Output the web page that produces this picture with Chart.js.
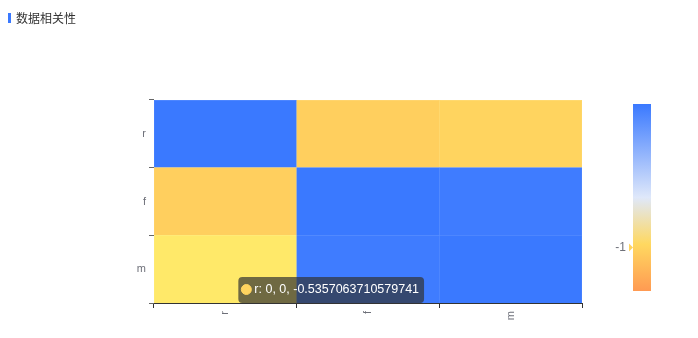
<!DOCTYPE html>
<html>
<head>
<meta charset="utf-8">
<script src="https://cdn.jsdelivr.net/npm/chart.js@4.4.1/dist/chart.umd.min.js"></script>
<style>
  html, body { margin: 0; padding: 0; background: #fff; }
  #wrap { position: relative; width: 698px; height: 338px; }
  #title {
    position: absolute; left: 8px; top: 9px;
    font: 12px 'Noto Sans CJK SC', sans-serif; color: #333;
    display: flex; align-items: center;
  }
  #title::before {
    content: ''; display: inline-block; width: 3px; height: 10px;
    background: #3a79ff; margin-right: 5px;
  }
  canvas { position: absolute; left: 0; top: 0; }
</style>
</head>
<body>
<div id="wrap">
  <canvas id="heatChart" width="698" height="338"></canvas>
  <div id="title">数据相关性</div>
</div>
<script>
/* ================= DATA ================= */
const xLabels = ['r', 'f', 'm'];
const yLabels = ['r', 'f', 'm'];   // top -> bottom
const rowR = [1, -0.57, -0.5357063710579741];
const rowF = [-0.57, 1, 0.97];
const rowM = [-0.5357063710579741, 0.97, 1];

// visual map (value -> colour)
const visualMin = -1;
const visualMax = 1;
const colorStops = [-1, -0.5, 0, 1];
const colorSteps = ['#ff9a52', '#ffd860', '#dfe8fa', '#3a79ff'];

/* ================= COLOUR HELPERS ================= */
function hexToRgb(h) {
  const n = parseInt(h.slice(1), 16);
  return [(n >> 16) & 255, (n >> 8) & 255, n & 255];
}

function valueColor(v) {
  v = Math.max(visualMin, Math.min(visualMax, v));
  for (let i = 0; i < colorStops.length - 1; i++) {
    if (v <= colorStops[i + 1]) {
      const t = (v - colorStops[i]) / (colorStops[i + 1] - colorStops[i]);
      const a = hexToRgb(colorSteps[i]);
      const b = hexToRgb(colorSteps[i + 1]);
      return a.map((c, k) => Math.round(c + (b[k] - c) * t));
    }
  }
  return hexToRgb(colorSteps[colorSteps.length - 1]);
}

const rgb = c => `rgb(${c.join(',')})`;
const lift = (c, k) => c.map(x => Math.min(255, Math.round(x * k)));
const mixWhite = (c, t) => c.map(x => Math.round(x + (255 - x) * t));

/* ================= DATASETS (one per row, stacked bottom -> top) ================= */
const rows = [
  { name: 'm', values: rowM },
  { name: 'f', values: rowF },
  { name: 'r', values: rowR }
];

const datasets = rows.map(row => {
  const cols = row.values.map(valueColor);
  return {
    label: row.name,
    data: row.values.map(() => 1),   // every cell is one row high
    corr: row.values,
    backgroundColor: cols.map(rgb),
    hoverBackgroundColor: cols.map(c => rgb(lift(c, 1.1))),
    borderColor: cols.map(c => rgb(mixWhite(c, 0.2))),
    hoverBorderColor: cols.map(c => rgb(mixWhite(lift(c, 1.1), 0.2))),
    borderWidth: 0.5,
    categoryPercentage: 1,
    barPercentage: 1
  };
});

/* ================= VISUAL MAP LEGEND ================= */
const visualMapPlugin = {
  id: 'visualMap',
  afterDraw(chart) {
    const { ctx, chartArea } = chart;
    const left = chartArea.right + 51;
    const width = 18;
    const top = 104;
    const bottom = 291;

    ctx.save();
    const grad = ctx.createLinearGradient(0, bottom, 0, top);
    colorStops.forEach((v, i) => {
      grad.addColorStop((v - visualMin) / (visualMax - visualMin), colorSteps[i]);
    });
    ctx.fillStyle = grad;
    ctx.fillRect(left, top, width, bottom - top);

    const act = chart.getActiveElements()[0];
    if (act) {
      const v = chart.data.datasets[act.datasetIndex].corr[act.index];
      const y = bottom - (v - visualMin) / (visualMax - visualMin) * (bottom - top);
      ctx.fillStyle = rgb(valueColor(v));
      ctx.beginPath();
      ctx.moveTo(left, y);
      ctx.lineTo(left - 4, y - 4);
      ctx.lineTo(left - 4, y + 4);
      ctx.closePath();
      ctx.fill();

      ctx.fillStyle = '#6e7079';
      ctx.font = "12px 'Liberation Sans', Arial, sans-serif";
      ctx.textAlign = 'right';
      ctx.textBaseline = 'middle';
      ctx.fillText(v.toFixed(0), left - 7, y);
    }
    ctx.restore();
  }
};

/* ================= TOOLTIP POSITION ================= */
Chart.Tooltip.positioners.cellCorner = function (items) {
  if (!items.length) return false;
  const el = items[0].element;
  return { x: el.x + 13, y: el.base - 13 };
};

/* ================= CHART ================= */
Chart.defaults.font.family = "'Liberation Sans', Arial, sans-serif";

const ctx = document.getElementById('heatChart').getContext('2d');
const chart = new Chart(ctx, {
  type: 'bar',
  data: { labels: xLabels, datasets: datasets },
  options: {
    responsive: false,
    devicePixelRatio: 1,
    animation: false,
    events: [],
    layout: { padding: { left: 124, right: 116, top: 100, bottom: 0 } },
    scales: {
      x: {
        type: 'category',
        stacked: true,
        offset: true,
        z: 1,
        grid: { offset: true, drawOnChartArea: false, tickLength: 5, color: '#333' },
        border: { color: '#333' },
        ticks: {
          minRotation: 90, maxRotation: 90, autoSkip: false, padding: 3,
          color: '#6e7079', font: { size: 11 }
        },
        afterFit: s => { s.height = 35; }
      },
      y: { type: 'linear', stacked: true, min: 0, max: 3, display: false },
      yRows: {
        type: 'category',
        labels: yLabels,
        position: 'left',
        offset: true,
        grid: { offset: true, drawOnChartArea: false, tickLength: 5, color: '#666' },
        border: { display: false },
        ticks: { color: '#6e7079', font: { size: 11 }, padding: 3 },
        afterFit: s => { s.width = 30; }
      }
    },
    plugins: {
      legend: { display: false },
      tooltip: {
        position: 'cellCorner',
        xAlign: 'left',
        yAlign: 'center',
        caretSize: 0,
        caretPadding: 0,
        cornerRadius: 4,
        backgroundColor: 'rgba(50,50,50,0.7)',
        bodyColor: '#fff',
        bodyFont: { size: 12.5 },
        padding: { top: 5, bottom: 6, left: 3, right: 5 },
        displayColors: true,
        usePointStyle: true,
        boxWidth: 10,
        boxHeight: 10,
        boxPadding: 1,
        multiKeyBackground: 'rgba(0,0,0,0)',
        callbacks: {
          title: () => '',
          label: c => `${xLabels[c.dataIndex]}: ${c.dataIndex}, ${c.datasetIndex}, ${c.dataset.corr[c.dataIndex]}`,
          labelColor: c => {
            const col = c.dataset.backgroundColor[c.dataIndex];
            return { backgroundColor: col, borderColor: col, borderWidth: 0 };
          },
          labelPointStyle: () => ({ pointStyle: 'circle', rotation: 0 })
        }
      }
    }
  },
  plugins: [visualMapPlugin]
});

// show the hovered cell (r / m) as in the reference
const activeEls = [{ datasetIndex: 0, index: 0 }];
chart.setActiveElements(activeEls);
chart.tooltip.setActiveElements(activeEls, { x: 0, y: 0 });
chart.update();
</script>
</body>
</html>
